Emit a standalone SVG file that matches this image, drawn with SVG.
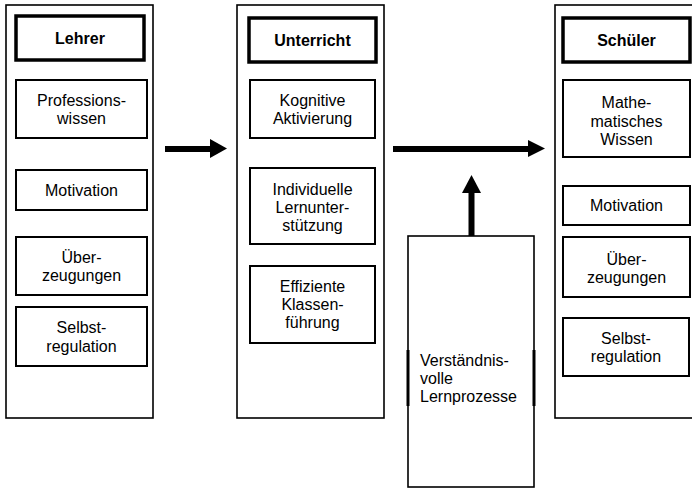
<svg xmlns="http://www.w3.org/2000/svg" width="692" height="489" viewBox="0 0 692 489">
<style>
  text { font-family: "Liberation Sans", Arial, sans-serif; font-size: 16px; fill: #000; }
  .c { text-anchor: middle; }
  .b { font-weight: bold; }
  .outer { fill: #fff; stroke: #000; stroke-width: 1.6; }
  .box { fill: #fff; stroke: #000; stroke-width: 2; }
  .head { fill: #fff; stroke: #000; stroke-width: 3.5; }
  .shaft { stroke: #000; stroke-width: 6; fill: none; }
  .thick { stroke: #000; stroke-width: 3; }
</style>
<rect width="692" height="489" fill="#fff"/>

<g id="lehrer">
  <rect class="outer" x="6" y="5" width="147" height="413"/>
  <rect class="head" x="16" y="16" width="128" height="44"/>
  <text class="c b" x="80" y="43.5">Lehrer</text>
</g>
<g id="lehrer-professionswissen">
  <rect class="box" x="16" y="80" width="131" height="58"/>
  <text class="c" x="81.5" y="105.5">Professions-</text>
  <text class="c" x="81.5" y="123.5">wissen</text>
</g>
<g id="lehrer-motivation">
  <rect class="box" x="16" y="170" width="131" height="40"/>
  <text class="c" x="81.5" y="196">Motivation</text>
</g>
<g id="lehrer-ueberzeugungen">
  <rect class="box" x="16" y="237" width="131" height="58"/>
  <text class="c" x="81.5" y="263">Über-</text>
  <text class="c" x="81.5" y="281">zeugungen</text>
</g>
<g id="lehrer-selbstregulation">
  <rect class="box" x="16" y="307" width="131" height="59"/>
  <text class="c" x="81.5" y="333">Selbst-</text>
  <text class="c" x="81.5" y="351.5">regulation</text>
</g>

<g id="unterricht">
  <rect class="outer" x="237" y="5" width="147" height="413"/>
  <rect class="head" x="249" y="18" width="127" height="44"/>
  <text class="c b" x="312.5" y="45.5">Unterricht</text>
</g>
<g id="unterricht-kognitive">
  <rect class="box" x="250" y="80" width="125" height="58"/>
  <text class="c" x="312.5" y="105.5">Kognitive</text>
  <text class="c" x="312.5" y="123.5">Aktivierung</text>
</g>
<g id="unterricht-individuelle">
  <rect class="box" x="250" y="168" width="125" height="76"/>
  <text class="c" x="312.5" y="194.5">Individuelle</text>
  <text class="c" x="312.5" y="212.5">Lernunter-</text>
  <text class="c" x="312.5" y="230.5">stützung</text>
</g>
<g id="unterricht-effiziente">
  <rect class="box" x="250" y="266" width="125" height="77"/>
  <text class="c" x="312.5" y="292">Effiziente</text>
  <text class="c" x="312.5" y="310">Klassen-</text>
  <text class="c" x="312.5" y="328">führung</text>
</g>

<g id="lernprozesse">
  <rect class="outer" x="408" y="236" width="126" height="251"/>
  <line class="thick" x1="408" y1="350" x2="408" y2="406"/>
  <line class="thick" x1="534" y1="350" x2="534" y2="406"/>
  <text x="420" y="366">Verständnis-</text>
  <text x="420" y="384">volle</text>
  <text x="420" y="402">Lernprozesse</text>
</g>

<g id="schueler">
  <rect class="outer" x="555" y="5" width="150" height="413"/>
  <rect class="head" x="563" y="18" width="127" height="44"/>
  <text class="c b" x="626.5" y="45.5">Schüler</text>
</g>
<g id="schueler-wissen">
  <rect class="box" x="563" y="80" width="127" height="77"/>
  <text class="c" x="626.5" y="108">Mathe-</text>
  <text class="c" x="626.5" y="126.5">matisches</text>
  <text class="c" x="626.5" y="145">Wissen</text>
</g>
<g id="schueler-motivation">
  <rect class="box" x="563" y="186" width="127" height="39"/>
  <text class="c" x="626.5" y="211">Motivation</text>
</g>
<g id="schueler-ueberzeugungen">
  <rect class="box" x="563" y="237" width="127" height="60"/>
  <text class="c" x="626.5" y="264.5">Über-</text>
  <text class="c" x="626.5" y="283">zeugungen</text>
</g>
<g id="schueler-selbstregulation">
  <rect class="box" x="563" y="318" width="126" height="58"/>
  <text class="c" x="626" y="343.5">Selbst-</text>
  <text class="c" x="626" y="362">regulation</text>
</g>

<g id="connectors">
  <line class="shaft" x1="165" y1="149" x2="211" y2="149"/>
  <polygon points="210,139 227,148.5 210,158" fill="#000"/>
  <line class="shaft" x1="393" y1="149" x2="529" y2="149"/>
  <polygon points="528,140 545,148.5 528,157" fill="#000"/>
  <line class="shaft" x1="471.5" y1="236" x2="471.5" y2="192"/>
  <polygon points="462,193 471.5,175 481,193" fill="#000"/>
</g>
</svg>
